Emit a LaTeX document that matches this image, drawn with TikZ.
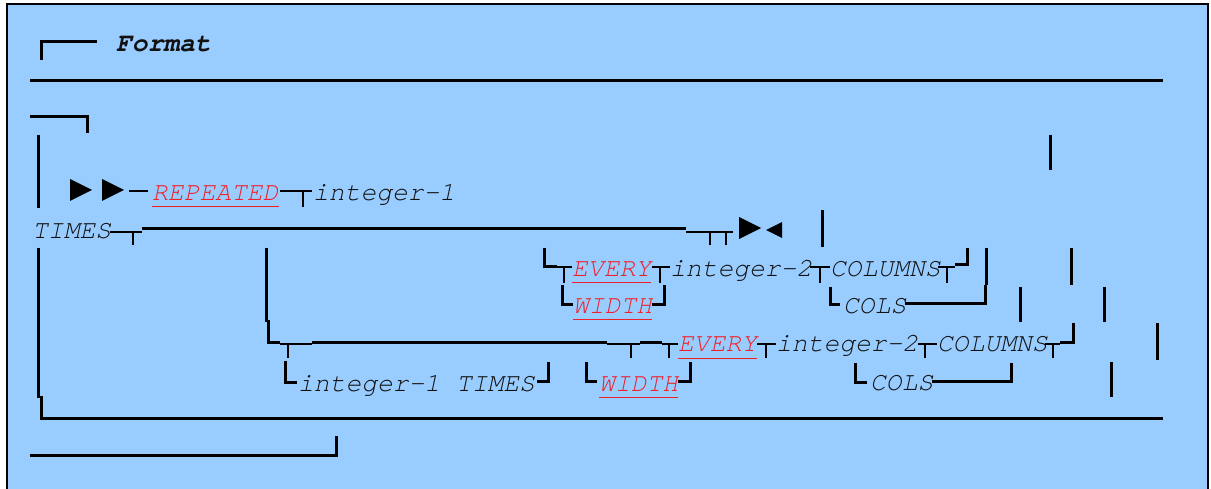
\documentclass[tikz,border=0pt]{standalone}
\usepackage{fontspec}
\newfontfamily\cour{TeX Gyre Cursor}
\definecolor{bg}{HTML}{99CCFF}
\definecolor{kwred}{HTML}{F0202A}
\definecolor{txt}{HTML}{111111}
\tikzset{
  t/.style={anchor=base west, inner sep=0pt, text=txt, font=\cour\fontsize{26.3}{30}\selectfont\itshape},
  kw/.style={t, text=kwred},
  hv/.style={line width=3.0pt, draw=black},
  tn/.style={line width=2pt, draw=black},
  ul/.style={line width=1pt, draw=kwred},
  tri/.style={fill=black, draw=none}
}
\begin{document}
\begin{tikzpicture}[x=1pt,y=-1pt]
\useasboundingbox (0,0) rectangle (1211,489);
\fill[white] (0,0) rectangle (1211,489);
\fill[bg] (7,4) rectangle (1208,489);
\draw[line width=1.6pt] (7,489) -- (7,4) -- (1208,4) -- (1208,489);

% row 1
\draw[hv] (41,60) -- (41,42) -- (97,42);
\node[t, font=\cour\fontsize{26.3}{30}\selectfont\bfseries\itshape] (fmt) at (116,52) {Format};
% row 2
\draw[hv] (30,81) -- (1163,81);
% row 3
\draw[hv] (30,117) -- (87,117) -- (87,133);
% row 4
\draw[hv] (38,135) -- (38,208);
\draw[hv] (1050,135) -- (1050,170);
% row 5
\fill[tri] (70,179) -- (92,190) -- (70,201) -- cycle;
\fill[tri] (102,179) -- (124,190) -- (102,201) -- cycle;
\draw[tn] (129,191) -- (148,191);
\node[kw] (rep) at (152,201) {REPEATED};
\draw[ul] ([yshift=-6pt]rep.base west) -- ([yshift=-6pt]rep.base east);
\draw[tn] (280,191) -- (312,191);
\draw[tn] (303,191) -- (303,207);
\node[t] (int1) at (313,201) {integer-1};
% row 6
\node[t] (times) at (32,239) {TIMES};
\draw[tn] (110,232) -- (142,232);
\draw[tn] (133,232) -- (133,245);
\draw[hv] (142,229) -- (686,229);
\draw[tn] (686,232) -- (733,232);
\draw[tn] (710,232) -- (710,245);
\draw[tn] (726,232) -- (726,245);
\fill[tri] (739,217) -- (761,228) -- (739,239) -- cycle;
\fill[tri] (782,222) -- (766,230) -- (782,238) -- cycle;
\draw[hv] (822,210) -- (822,247);
% left verticals
\draw[hv] (38,248) -- (38,398);
\draw[hv] (41,396) -- (41,418) -- (1163,418);
\draw[hv] (266,248) -- (266,322);
\draw[hv] (268,320) -- (268,342) -- (280,342);
% row 7
\draw[hv] (544,248) -- (544,267) -- (557,267);
\draw[tn] (557,267) -- (572,267);
\draw[tn] (564,267) -- (564,283);
\node[kw] (ev1) at (572,277) {EVERY};
\draw[ul] ([yshift=-6pt]ev1.base west) -- ([yshift=-6pt]ev1.base east);
\draw[tn] (652,267) -- (670,267);
\draw[tn] (660,267) -- (660,283);
\node[t] (int2a) at (670,277) {integer-2};
\draw[tn] (810,267) -- (830,267);
\draw[tn] (820,267) -- (820,283);
\node[t] (colA) at (830,277) {COLUMNS};
\draw[tn] (938,267) -- (955,267);
\draw[tn] (947,267) -- (947,283);
\draw[hv] (955,265) -- (967,265) -- (967,248);
\draw[hv] (986,248) -- (986,285);
\draw[hv] (1071,248) -- (1071,285);
% row 8
\draw[hv] (562,285) -- (562,305) -- (573,305);
\node[kw] (wd1) at (573,314) {WIDTH};
\draw[ul] ([yshift=-6pt]wd1.base west) -- ([yshift=-6pt]wd1.base east);
\draw[hv] (652,305) -- (664,305) -- (664,285);
\draw[hv] (830,287) -- (830,305) -- (840,305);
\node[t] (colsA) at (843,314) {COLS};
\draw[hv] (905,304) -- (985,304) -- (985,285);
\draw[hv] (1020,287) -- (1020,322);
\draw[hv] (1104,287) -- (1104,322);
% row 9
\draw[tn] (280,344) -- (312,344);
\draw[tn] (288,344) -- (288,358);
\draw[hv] (312,342) -- (607,342);
\draw[tn] (607,344) -- (640,344);
\draw[tn] (631,344) -- (631,358);
\draw[hv] (640,342) -- (662,342);
\draw[tn] (662,344) -- (678,344);
\draw[tn] (669,344) -- (669,358);
\node[kw] (ev2) at (678,352) {EVERY};
\draw[ul] ([yshift=-6pt]ev2.base west) -- ([yshift=-6pt]ev2.base east);
\draw[tn] (757,344) -- (776,344);
\draw[tn] (766,344) -- (766,358);
\node[t] (int2b) at (776,352) {integer-2};
\draw[tn] (918,344) -- (937,344);
\draw[tn] (925,344) -- (925,358);
\node[t] (colB) at (937,352) {COLUMNS};
\draw[tn] (1045,344) -- (1060,344);
\draw[tn] (1053,344) -- (1053,358);
\draw[hv] (1060,342) -- (1073,342) -- (1073,323);
\draw[hv] (1157,323) -- (1157,360);
% row 10
\draw[hv] (285,361) -- (285,382) -- (297,382);
\node[t] (it) at (298,391) {integer-1 TIMES};
\draw[hv] (537,381) -- (548,381) -- (548,362);
\draw[hv] (586,362) -- (586,381) -- (597,381);
\node[kw] (wd2) at (599,391) {WIDTH};
\draw[ul] ([yshift=-6pt]wd2.base west) -- ([yshift=-6pt]wd2.base east);
\draw[hv] (678,381) -- (690,381) -- (690,362);
\draw[hv] (855,363) -- (855,382) -- (867,382);
\node[t] (colsB) at (870,390) {COLS};
\draw[hv] (932,381) -- (1011,381) -- (1011,363);
\draw[hv] (1111,362) -- (1111,397);
% bottom
\draw[hv] (30,455) -- (336,455) -- (336,436);
\end{tikzpicture}
\end{document}
